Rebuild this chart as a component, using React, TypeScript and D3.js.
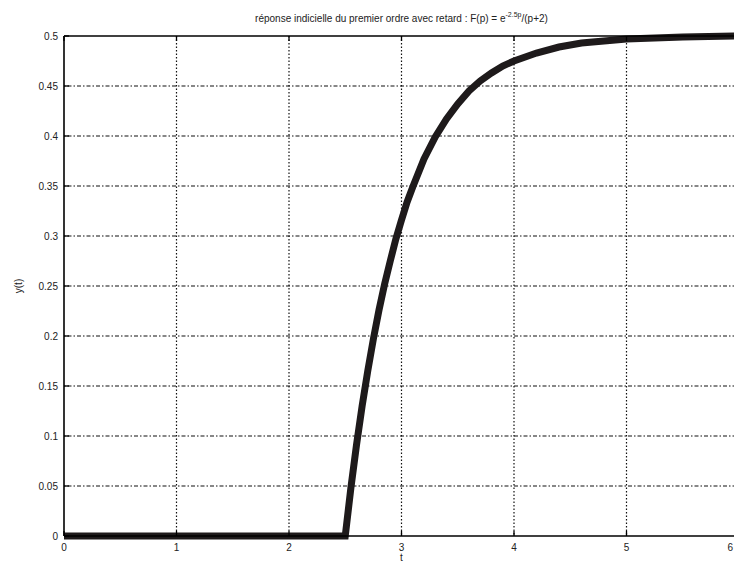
import React from "react";
import * as d3 from "d3";

// time samples (s) and response values
const tValues = [0, 1, 2, 2.5, 2.55, 2.6, 2.65, 2.7, 2.75, 2.8, 2.85, 2.9, 2.95, 3.0, 3.05, 3.1, 3.2, 3.3, 3.4, 3.5, 3.6, 3.7, 3.8, 3.9, 4.0, 4.2, 4.4, 4.6, 4.8, 5.0, 5.5, 6.0];
const yValues = [0, 0, 0, 0, 0.048, 0.091, 0.13, 0.165, 0.197, 0.226, 0.252, 0.275, 0.297, 0.316, 0.334, 0.349, 0.377, 0.399, 0.417, 0.432, 0.445, 0.455, 0.463, 0.47, 0.475, 0.483, 0.489, 0.493, 0.495, 0.497, 0.499, 0.5];

const xTicks = [0, 1, 2, 3, 4, 5, 6];
const yTicks = [0, 0.05, 0.1, 0.15, 0.2, 0.25, 0.3, 0.35, 0.4, 0.45, 0.5];

const width = 734;
const height = 567;
const marginLeft = 64;
const marginTop = 36;
const plotRight = 739;
const plotBottom = 536;

export default function App() {
  const x = d3.scaleLinear().domain([0, 6]).range([marginLeft, plotRight]);
  const y = d3.scaleLinear().domain([0, 0.5]).range([plotBottom, marginTop]);

  const points = tValues.map((t, i) => [t, yValues[i]] as [number, number]);
  const line = d3.line<[number, number]>()
    .x(d => x(d[0]))
    .y(d => y(d[1]));

  const font = "'Liberation Sans', Arial, sans-serif";

  return (
    <svg width={width} height={height} style={{ position: "absolute", left: 0, top: 0, background: "#fff" }}>
      {/* grid */}
      <g stroke="#111" strokeWidth={1.2}>
        {xTicks.filter(t => t > 0 && t < 6).map(t => (
          <line key={"gx" + t} x1={x(t)} x2={x(t)} y1={y(0.5)} y2={y(0)} strokeDasharray="1.5 2" />
        ))}
        {yTicks.filter(t => t > 0 && t < 0.5).map(t => (
          <line key={"gy" + t} x1={x(0)} x2={plotRight} y1={y(t)} y2={y(t)} strokeDasharray="1.5 2 4 2" />
        ))}
      </g>

      {/* curve */}
      <path d={line(points) ?? ""} fill="none" stroke="#1e1a1b" strokeWidth={7} strokeLinejoin="miter" />

      {/* axes box */}
      <g stroke="#000" strokeWidth={1.6} fill="none">
        <line x1={x(0)} x2={plotRight} y1={plotBottom} y2={plotBottom} />
        <line x1={x(0)} x2={plotRight} y1={marginTop} y2={marginTop} />
        <line x1={x(0)} x2={x(0)} y1={marginTop} y2={plotBottom} />
      </g>

      {/* ticks */}
      <g stroke="#000" strokeWidth={1.3}>
        {xTicks.map(t => (
          <g key={"tx" + t}>
            <line x1={x(t)} x2={x(t)} y1={plotBottom} y2={plotBottom - 5} />
            <line x1={x(t)} x2={x(t)} y1={marginTop} y2={marginTop + 5} />
          </g>
        ))}
        {yTicks.map(t => (
          <line key={"ty" + t} x1={x(0)} x2={x(0) + 5} y1={y(t)} y2={y(t)} />
        ))}
      </g>

      {/* tick labels */}
      <g fontFamily={font} fontSize={10} fill="#222">
        {xTicks.map(t => (
          <text key={"lx" + t} x={Math.min(x(t), width - 1)} y={plotBottom + 15}
            textAnchor={x(t) > width - 4 ? "end" : "middle"}>{d3.format("~g")(t)}</text>
        ))}
        {yTicks.map(t => (
          <text key={"ly" + t} x={x(0) - 6} y={y(t) + 3.5} textAnchor="end">{d3.format("~g")(t)}</text>
        ))}
      </g>

      {/* axis labels */}
      <text x={x(3)} y={plotBottom + 25} textAnchor="middle" fontFamily={font} fontSize={10} fill="#222">t</text>
      <text transform={`translate(22,${y(0.25)}) rotate(-90)`} textAnchor="middle" fontFamily={font} fontSize={10} fill="#222">y(t)</text>

      {/* title */}
      <text x={x(3)} y={22} textAnchor="middle" fontFamily={font} fontSize={10} fill="#222">
        réponse indicielle du premier ordre avec retard : F(p) = e
        <tspan fontSize={7} dy={-5}>-2.5p</tspan>
        <tspan dy={5}>/(p+2)</tspan>
      </text>
    </svg>
  );
}
